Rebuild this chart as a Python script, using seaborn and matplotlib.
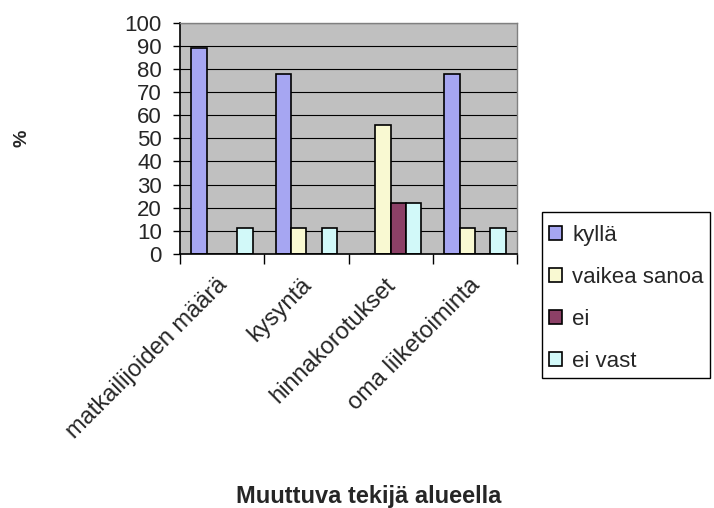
import matplotlib
matplotlib.use("Agg")
import matplotlib.pyplot as plt
import matplotlib.transforms as mtransforms
from matplotlib.patches import Rectangle
import seaborn as sns
import pandas as pd

categories = ["matkailijoiden määrä", "kysyntä", "hinnakorotukset", "oma liiketoiminta"]
series = ["kyllä", "vaikea sanoa", "ei", "ei vast"]
kylla = [88.9, 77.8, 0, 77.8]
vaikea = [0, 11.1, 55.6, 11.1]
ei = [0, 0, 22.2, 0]
ei_vast = [11.1, 11.1, 22.2, 11.1]
colors = ["#9999FF", "#FFFFCC", "#993366", "#CCFFFF"]

rows = []
for s, vals in zip(series, [kylla, vaikea, ei, ei_vast]):
    for c, v in zip(categories, vals):
        rows.append({"cat": c, "series": s, "value": v})
df = pd.DataFrame(rows)

sns.set_theme(style="white")
plt.rcParams['font.family'] = ['Liberation Sans', 'DejaVu Sans']

W, H = 714, 508
fig = plt.figure(figsize=(W/100, H/100), dpi=100)
ax = fig.add_axes([180/W, 1-254/H, (517-180)/W, (254-22.7)/H])
ax.set_facecolor("#C0C0C0")

sns.barplot(data=df, x="cat", y="value", hue="series", palette=colors,
            order=categories, hue_order=series, width=4/5.5, gap=0,
            edgecolor="black", linewidth=1.2, ax=ax, legend=True)

ax.set_ylim(0, 100)
ax.set_xlim(-0.5, 3.5)
ax.set_yticks(range(0, 101, 10))
ax.yaxis.grid(True, color="black", linewidth=0.8)
ax.set_axisbelow(True)
ax.tick_params(axis="y", left=True, length=5, width=1, color="black", labelsize=16, pad=8)
ax.tick_params(axis="x", which="major", length=0, labelsize=17, pad=0)
ax.set_xticks([-0.5, 0.5, 1.5, 2.5, 3.5], minor=True)
ax.tick_params(axis="x", which="minor", bottom=True, length=7, width=1, color="black")
offset = mtransforms.ScaledTranslation(-6/100, -20/100, fig.dpi_scale_trans)
for lab in ax.get_xticklabels():
    lab.set_rotation(45)
    lab.set_ha("right")
    lab.set_va("top")
    lab.set_rotation_mode("anchor")
    lab.set_transform(lab.get_transform() + offset)

for side in ["left", "bottom"]:
    ax.spines[side].set_color("black")
    ax.spines[side].set_linewidth(1.2)
for side in ["top", "right"]:
    ax.spines[side].set_color("#808080")
    ax.spines[side].set_linewidth(1.0)

ax.set_xlabel("")
ax.set_ylabel("")
fig.text(22/W, 1-138/H, "%", rotation=90, fontsize=14, fontweight="bold",
         ha="center", va="center")
fig.text(369/W, 1-503/H, "Muuttuva tekijä alueella", fontsize=17,
         fontweight="bold", ha="center", va="baseline")

handles, labels = ax.get_legend_handles_labels()
ax.get_legend().remove()
fig.patches.append(Rectangle((542/W, 1-378/H), (710-542)/W, (378-212)/H,
                             transform=fig.transFigure, facecolor="white",
                             edgecolor="black", linewidth=1.0, zorder=0))
leg = fig.legend(handles, labels, loc="center left",
                 bbox_to_anchor=(549/W, 1-298.5/H), bbox_transform=fig.transFigure,
                 frameon=False, fontsize=16, labelspacing=0.95,
                 handlelength=0.6, handleheight=0.6, handletextpad=0.45,
                 borderpad=0, borderaxespad=0)

fig.savefig("out.png", dpi=100)
